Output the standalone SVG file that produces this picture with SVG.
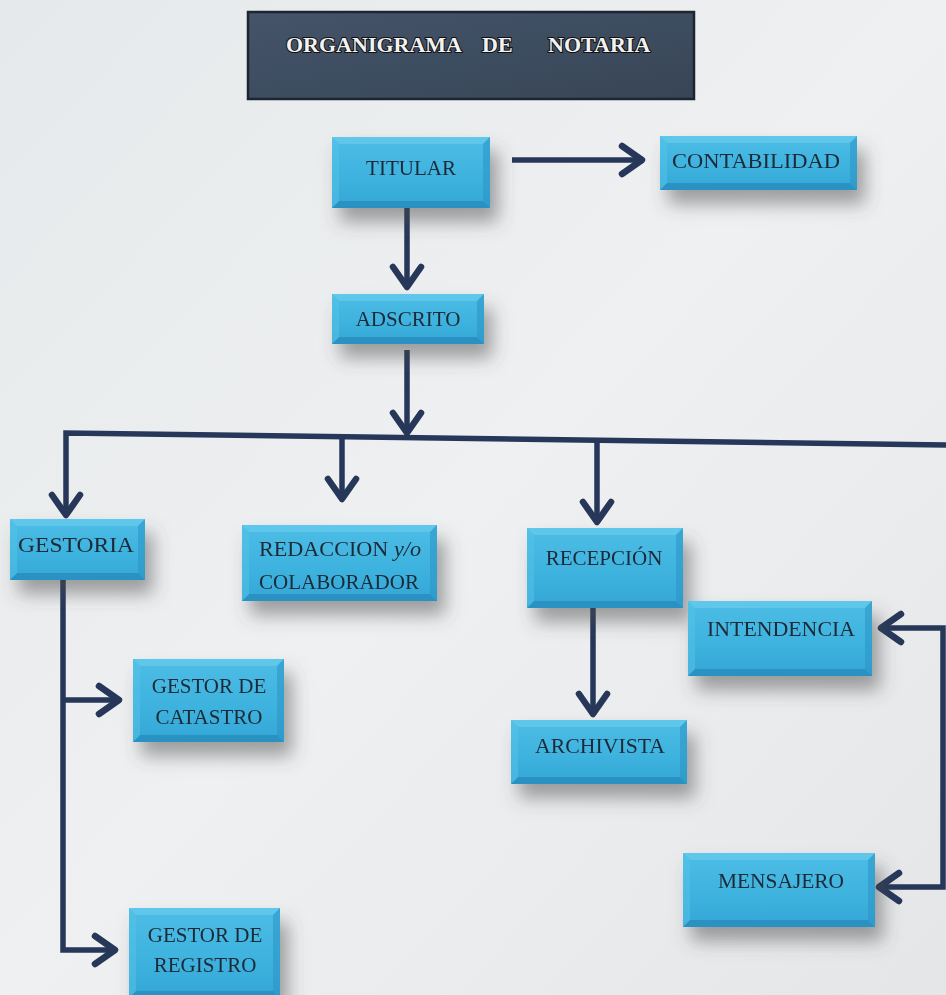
<svg xmlns="http://www.w3.org/2000/svg" width="946" height="995" viewBox="0 0 946 995">
<defs>
<linearGradient id="bg" x1="0" y1="0" x2="1" y2="1">
<stop offset="0" stop-color="#e6e9eb"/>
<stop offset="0.5" stop-color="#eef0f1"/>
<stop offset="1" stop-color="#e4e6e8"/>
</linearGradient>
<linearGradient id="boxg" x1="0" y1="0" x2="0" y2="1">
<stop offset="0" stop-color="#4cbde6"/>
<stop offset="0.6" stop-color="#3db2de"/>
<stop offset="1" stop-color="#34a6d6"/>
</linearGradient>
<linearGradient id="titg" x1="0" y1="0" x2="1" y2="1">
<stop offset="0" stop-color="#46536a"/>
<stop offset="0.5" stop-color="#3d4d60"/>
<stop offset="1" stop-color="#394556"/>
</linearGradient>
<filter id="sh" x="-25%" y="-30%" width="160%" height="200%">
<feDropShadow dx="8" dy="14" stdDeviation="9" flood-color="#4a4a4a" flood-opacity="0.5"/>
</filter>
<marker id="arr" markerUnits="userSpaceOnUse" orient="auto-start-reverse" markerWidth="1" markerHeight="1" overflow="visible">
<path d="M-19,-14 L1,0 L-19,14" fill="none" stroke="#26375a" stroke-width="6.5" stroke-linejoin="round" stroke-linecap="round"/>
</marker>
</defs>
<style>
.box{fill:url(#boxg)}
.bt{fill:#6fd0ee;opacity:.55}
.bb{fill:#2589bb;opacity:.7}
.bl{fill:#55c3e8;opacity:.5}
.br{fill:#2a93c4;opacity:.55}
.lbl{font-family:"Liberation Serif","Times New Roman",serif;font-size:21px;fill:#1d2a38;text-anchor:middle}
.con{fill:none;stroke:#26375a;stroke-width:5.5;stroke-linecap:butt;stroke-linejoin:miter}
.node{filter:url(#sh)}
.tt{font-family:"Liberation Serif","Times New Roman",serif;font-size:22px;font-weight:bold;fill:#f2f2f2;stroke:#111;stroke-width:2;paint-order:stroke}
</style>
<rect width="946" height="995" fill="url(#bg)"/>

<g id="title">
<rect x="248" y="12" width="446" height="87" fill="url(#titg)" stroke="#1e2530" stroke-width="2.5"/>
<text class="tt" x="286" y="52">ORGANIGRAMA</text>
<text class="tt" x="482" y="52">DE</text>
<text class="tt" x="548" y="52">NOTARIA</text>
</g>

<g id="connectors">
<path class="con" d="M512,160 H641" marker-end="url(#arr)"/>
<path class="con" d="M407,208 V286" marker-end="url(#arr)"/>
<path class="con" d="M407,350 V432" marker-end="url(#arr)"/>
<path class="con" d="M946,445 L66,433 V514" marker-end="url(#arr)"/>
<path class="con" d="M342,437 V498" marker-end="url(#arr)"/>
<path class="con" d="M597,440 V521" marker-end="url(#arr)"/>
<path class="con" d="M593,608 V713" marker-end="url(#arr)"/>
<path class="con" d="M882,628 H943 V887 H880" marker-start="url(#arr)" marker-end="url(#arr)"/>
<path class="con" d="M63,580 V950 H114" marker-end="url(#arr)"/>
<path class="con" d="M63,700 H118" marker-end="url(#arr)"/>
</g>

<g id="titular" class="node">
<rect class="box" x="332" y="137" width="158" height="71"/>
<polygon class="bt" points="332,137 490,137 483,144 339,144"/>
<polygon class="bb" points="332,208 490,208 483,201 339,201"/>
<polygon class="bl" points="332,137 339,144 339,201 332,208"/>
<polygon class="br" points="490,137 483,144 483,201 490,208"/>
<text class="lbl" x="411" y="175">TITULAR</text>
</g>

<g id="contabilidad" class="node">
<rect class="box" x="660" y="136" width="197" height="54"/>
<polygon class="bt" points="660,136 857,136 850,143 667,143"/>
<polygon class="bb" points="660,190 857,190 850,183 667,183"/>
<polygon class="bl" points="660,136 667,143 667,183 660,190"/>
<polygon class="br" points="857,136 850,143 850,183 857,190"/>
<text class="lbl" x="756" y="168" textLength="168" lengthAdjust="spacingAndGlyphs">CONTABILIDAD</text>
</g>

<g id="adscrito" class="node">
<rect class="box" x="332" y="294" width="152" height="50"/>
<polygon class="bt" points="332,294 484,294 477,301 339,301"/>
<polygon class="bb" points="332,344 484,344 477,337 339,337"/>
<polygon class="bl" points="332,294 339,301 339,337 332,344"/>
<polygon class="br" points="484,294 477,301 477,337 484,344"/>
<text class="lbl" x="408" y="326">ADSCRITO</text>
</g>

<g id="gestoria" class="node">
<rect class="box" x="10" y="519" width="135" height="61"/>
<polygon class="bt" points="10,519 145,519 138,526 17,526"/>
<polygon class="bb" points="10,580 145,580 138,573 17,573"/>
<polygon class="bl" points="10,519 17,526 17,573 10,580"/>
<polygon class="br" points="145,519 138,526 138,573 145,580"/>
<text class="lbl" x="76" y="552" textLength="116" lengthAdjust="spacingAndGlyphs">GESTORIA</text>
</g>

<g id="redaccion" class="node">
<rect class="box" x="242" y="525" width="195" height="76"/>
<polygon class="bt" points="242,525 437,525 430,532 249,532"/>
<polygon class="bb" points="242,601 437,601 430,594 249,594"/>
<polygon class="bl" points="242,525 249,532 249,594 242,601"/>
<polygon class="br" points="437,525 430,532 430,594 437,601"/>
<text class="lbl" x="340" y="556" textLength="162" lengthAdjust="spacingAndGlyphs">REDACCION <tspan font-style="italic">y/o</tspan></text>
<text class="lbl" x="339" y="589" textLength="160" lengthAdjust="spacingAndGlyphs">COLABORADOR</text>
</g>

<g id="recepcion" class="node">
<rect class="box" x="527" y="528" width="156" height="80"/>
<polygon class="bt" points="527,528 683,528 676,535 534,535"/>
<polygon class="bb" points="527,608 683,608 676,601 534,601"/>
<polygon class="bl" points="527,528 534,535 534,601 527,608"/>
<polygon class="br" points="683,528 676,535 676,601 683,608"/>
<text class="lbl" x="604" y="565">RECEPCIÓN</text>
</g>

<g id="intendencia" class="node">
<rect class="box" x="688" y="601" width="184" height="75"/>
<polygon class="bt" points="688,601 872,601 865,608 695,608"/>
<polygon class="bb" points="688,676 872,676 865,669 695,669"/>
<polygon class="bl" points="688,601 695,608 695,669 688,676"/>
<polygon class="br" points="872,601 865,608 865,669 872,676"/>
<text class="lbl" x="781" y="636" textLength="148" lengthAdjust="spacingAndGlyphs">INTENDENCIA</text>
</g>

<g id="gestor-catastro" class="node">
<rect class="box" x="133" y="659" width="151" height="83"/>
<polygon class="bt" points="133,659 284,659 277,666 140,666"/>
<polygon class="bb" points="133,742 284,742 277,735 140,735"/>
<polygon class="bl" points="133,659 140,666 140,735 133,742"/>
<polygon class="br" points="284,659 277,666 277,735 284,742"/>
<text class="lbl" x="209" y="693">GESTOR DE</text>
<text class="lbl" x="209" y="724">CATASTRO</text>
</g>

<g id="archivista" class="node">
<rect class="box" x="511" y="720" width="176" height="64"/>
<polygon class="bt" points="511,720 687,720 680,727 518,727"/>
<polygon class="bb" points="511,784 687,784 680,777 518,777"/>
<polygon class="bl" points="511,720 518,727 518,777 511,784"/>
<polygon class="br" points="687,720 680,727 680,777 687,784"/>
<text class="lbl" x="600" y="753" textLength="130" lengthAdjust="spacingAndGlyphs">ARCHIVISTA</text>
</g>

<g id="mensajero" class="node">
<rect class="box" x="683" y="853" width="192" height="74"/>
<polygon class="bt" points="683,853 875,853 868,860 690,860"/>
<polygon class="bb" points="683,927 875,927 868,920 690,920"/>
<polygon class="bl" points="683,853 690,860 690,920 683,927"/>
<polygon class="br" points="875,853 868,860 868,920 875,927"/>
<text class="lbl" x="781" y="888" textLength="126" lengthAdjust="spacingAndGlyphs">MENSAJERO</text>
</g>

<g id="gestor-registro" class="node">
<rect class="box" x="129" y="908" width="151" height="90"/>
<polygon class="bt" points="129,908 280,908 273,915 136,915"/>
<polygon class="bb" points="129,998 280,998 273,991 136,991"/>
<polygon class="bl" points="129,908 136,915 136,991 129,998"/>
<polygon class="br" points="280,908 273,915 273,991 280,998"/>
<text class="lbl" x="205" y="942">GESTOR DE</text>
<text class="lbl" x="205" y="972">REGISTRO</text>
</g>
</svg>
